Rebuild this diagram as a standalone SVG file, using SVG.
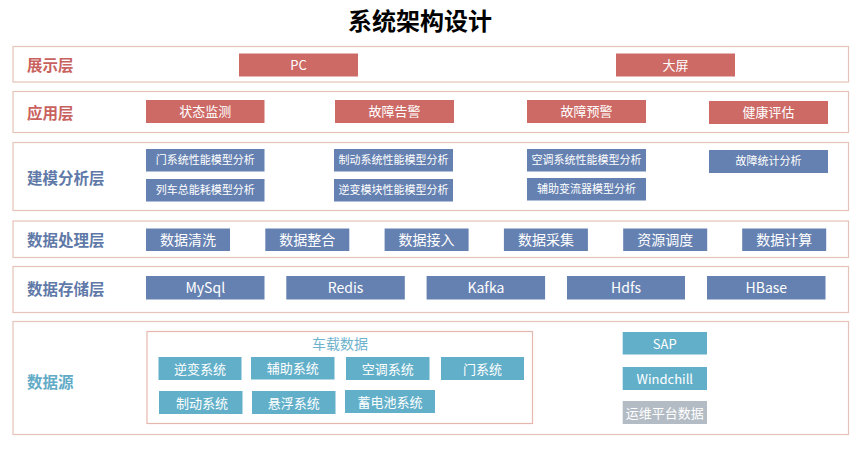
<svg xmlns="http://www.w3.org/2000/svg" width="864" height="452" viewBox="0 0 864 452">
<style>
.layer{fill:#ffffff;stroke:#e6c3b8;stroke-width:1.2}
.inner{fill:#ffffff;stroke:#e6b8ad;stroke-width:1.2}
.lbl{font-family:"Noto Sans CJK SC","Noto Sans",sans-serif;font-weight:bold;font-size:15.5px}
.red{fill:#c9625e}
.blu{fill:#5f79a8}
.teal{fill:#62abc6}
.r{fill:#cd6a66}
.b{fill:#6581b1}
.t{fill:#62afc9}
.g{fill:#b3bcc4}
.tx{font-family:"Noto Sans CJK SC","Noto Sans",sans-serif;fill:#ffffff;text-anchor:middle}
.s13{font-size:13px}
.s11{font-size:11px}
.s14{font-size:14px}
</style>
<rect width="864" height="452" fill="#ffffff"/>
<text x="420" y="30" text-anchor="middle" font-family="Noto Sans CJK SC,sans-serif" font-weight="bold" font-size="24" fill="#000">系统架构设计</text>

<g id="layer-display">
<rect class="layer" x="13" y="46.5" width="835.5" height="35.5"/>
<text class="lbl red" x="27" y="71">展示层</text>
<g id="n-pc"><rect class="r" x="239" y="53.5" width="119" height="23"/><text class="tx s13" x="298.5" y="69.5">PC</text></g>
<g id="n-bigscreen"><rect class="r" x="616" y="53.5" width="119" height="23"/><text class="tx s13" x="675.5" y="69.5">大屏</text></g>
</g>

<g id="layer-app">
<rect class="layer" x="13" y="91.5" width="835.5" height="41"/>
<text class="lbl red" x="27" y="119">应用层</text>
<g id="n-status"><rect class="r" x="146" y="100" width="118.5" height="23"/><text class="tx s13" x="205.3" y="116">状态监测</text></g>
<g id="n-alarm"><rect class="r" x="335" y="100" width="119" height="23"/><text class="tx s13" x="394.5" y="116">故障告警</text></g>
<g id="n-warn"><rect class="r" x="527" y="100" width="119" height="23"/><text class="tx s13" x="586.5" y="116">故障预警</text></g>
<g id="n-health"><rect class="r" x="709" y="101" width="119" height="23"/><text class="tx s13" x="768.5" y="117">健康评估</text></g>
</g>

<g id="layer-model">
<rect class="layer" x="13" y="142.5" width="835.5" height="68"/>
<text class="lbl blu" x="27" y="184">建模分析层</text>
<g id="n-m1"><rect class="b" x="146" y="149" width="118.5" height="22.5"/><text class="tx s11" x="205.3" y="164">门系统性能模型分析</text></g>
<g id="n-m2"><rect class="b" x="146" y="179" width="118.5" height="22.5"/><text class="tx s11" x="205.3" y="194">列车总能耗模型分析</text></g>
<g id="n-m3"><rect class="b" x="334" y="149" width="119" height="22.5"/><text class="tx s11" x="393.5" y="164">制动系统性能模型分析</text></g>
<g id="n-m4"><rect class="b" x="334" y="179" width="119" height="22.5"/><text class="tx s11" x="393.5" y="194">逆变模块性能模型分析</text></g>
<g id="n-m5"><rect class="b" x="527" y="149" width="119" height="22.5"/><text class="tx s11" x="586.5" y="164">空调系统性能模型分析</text></g>
<g id="n-m6"><rect class="b" x="527" y="178" width="119" height="22.5"/><text class="tx s11" x="586.5" y="193">辅助变流器模型分析</text></g>
<g id="n-m7"><rect class="b" x="709" y="150" width="119" height="23"/><text class="tx s11" x="768.5" y="165">故障统计分析</text></g>
</g>

<g id="layer-process">
<rect class="layer" x="13" y="221" width="835.5" height="36.5"/>
<text class="lbl blu" x="27" y="246">数据处理层</text>
<g id="n-p1"><rect class="b" x="146" y="228.5" width="84" height="22.5"/><text class="tx s14" x="188" y="245">数据清洗</text></g>
<g id="n-p2"><rect class="b" x="265.3" y="228.5" width="84" height="22.5"/><text class="tx s14" x="307.3" y="245">数据整合</text></g>
<g id="n-p3"><rect class="b" x="384.6" y="228.5" width="84" height="22.5"/><text class="tx s14" x="426.6" y="245">数据接入</text></g>
<g id="n-p4"><rect class="b" x="503.9" y="228.5" width="84" height="22.5"/><text class="tx s14" x="545.9" y="245">数据采集</text></g>
<g id="n-p5"><rect class="b" x="623.2" y="228.5" width="84" height="22.5"/><text class="tx s14" x="665.2" y="245">资源调度</text></g>
<g id="n-p6"><rect class="b" x="742.2" y="228.5" width="84" height="22.5"/><text class="tx s14" x="784.2" y="245">数据计算</text></g>
</g>

<g id="layer-storage">
<rect class="layer" x="13" y="266.5" width="835.5" height="46"/>
<text class="lbl blu" x="27" y="295">数据存储层</text>
<g id="n-s1"><rect class="b" x="146" y="276" width="118.5" height="23.5"/><text class="tx s14" x="205.3" y="293">MySql</text></g>
<g id="n-s2"><rect class="b" x="286.3" y="276" width="118.5" height="23.5"/><text class="tx s14" x="345.6" y="293">Redis</text></g>
<g id="n-s3"><rect class="b" x="426.6" y="276" width="118.5" height="23.5"/><text class="tx s14" x="485.9" y="293">Kafka</text></g>
<g id="n-s4"><rect class="b" x="567" y="276" width="118" height="23.5"/><text class="tx s14" x="626" y="293">Hdfs</text></g>
<g id="n-s5"><rect class="b" x="707" y="276" width="118.5" height="23.5"/><text class="tx s14" x="766.3" y="293">HBase</text></g>
</g>

<g id="layer-source">
<rect class="layer" x="13" y="321.5" width="835.5" height="113"/>
<text class="lbl teal" x="27" y="388">数据源</text>
<g id="n-vehicle">
<rect class="inner" x="147" y="331.5" width="385.5" height="92"/>
<text x="340" y="349" text-anchor="middle" font-family="Noto Sans CJK SC,sans-serif" font-size="14" fill="#6fb2cc">车载数据</text>
<g id="n-v1"><rect class="t" x="158.5" y="357" width="83" height="23"/><text class="tx s13" x="200" y="373.5">逆变系统</text></g>
<g id="n-v2"><rect class="t" x="251" y="357" width="83.5" height="22.5"/><text class="tx s13" x="292.7" y="372.5">辅助系统</text></g>
<g id="n-v3"><rect class="t" x="346" y="357" width="83.5" height="23"/><text class="tx s13" x="387.7" y="373.5">空调系统</text></g>
<g id="n-v4"><rect class="t" x="441" y="357" width="83" height="23"/><text class="tx s13" x="482.5" y="373.5">门系统</text></g>
<g id="n-v5"><rect class="t" x="159" y="391" width="83.5" height="23"/><text class="tx s13" x="202" y="408">制动系统</text></g>
<g id="n-v6"><rect class="t" x="252" y="391" width="83.5" height="23"/><text class="tx s13" x="293.7" y="408">悬浮系统</text></g>
<g id="n-v7"><rect class="t" x="345" y="390" width="90" height="23"/><text class="tx s13" x="390" y="407">蓄电池系统</text></g>
</g>
<g id="n-sap"><rect class="t" x="622.7" y="332" width="84.3" height="22.5"/><text class="tx s13" x="664.8" y="348.5">SAP</text></g>
<g id="n-windchill"><rect class="t" x="622.7" y="367" width="84.3" height="23"/><text class="tx s13" x="664.8" y="383.5">Windchill</text></g>
<g id="n-ops"><rect class="g" x="622.7" y="401" width="84.3" height="23"/><text class="tx s13" x="664.8" y="417.5">运维平台数据</text></g>
</g>

<g id="connectors"></g>
</svg>
